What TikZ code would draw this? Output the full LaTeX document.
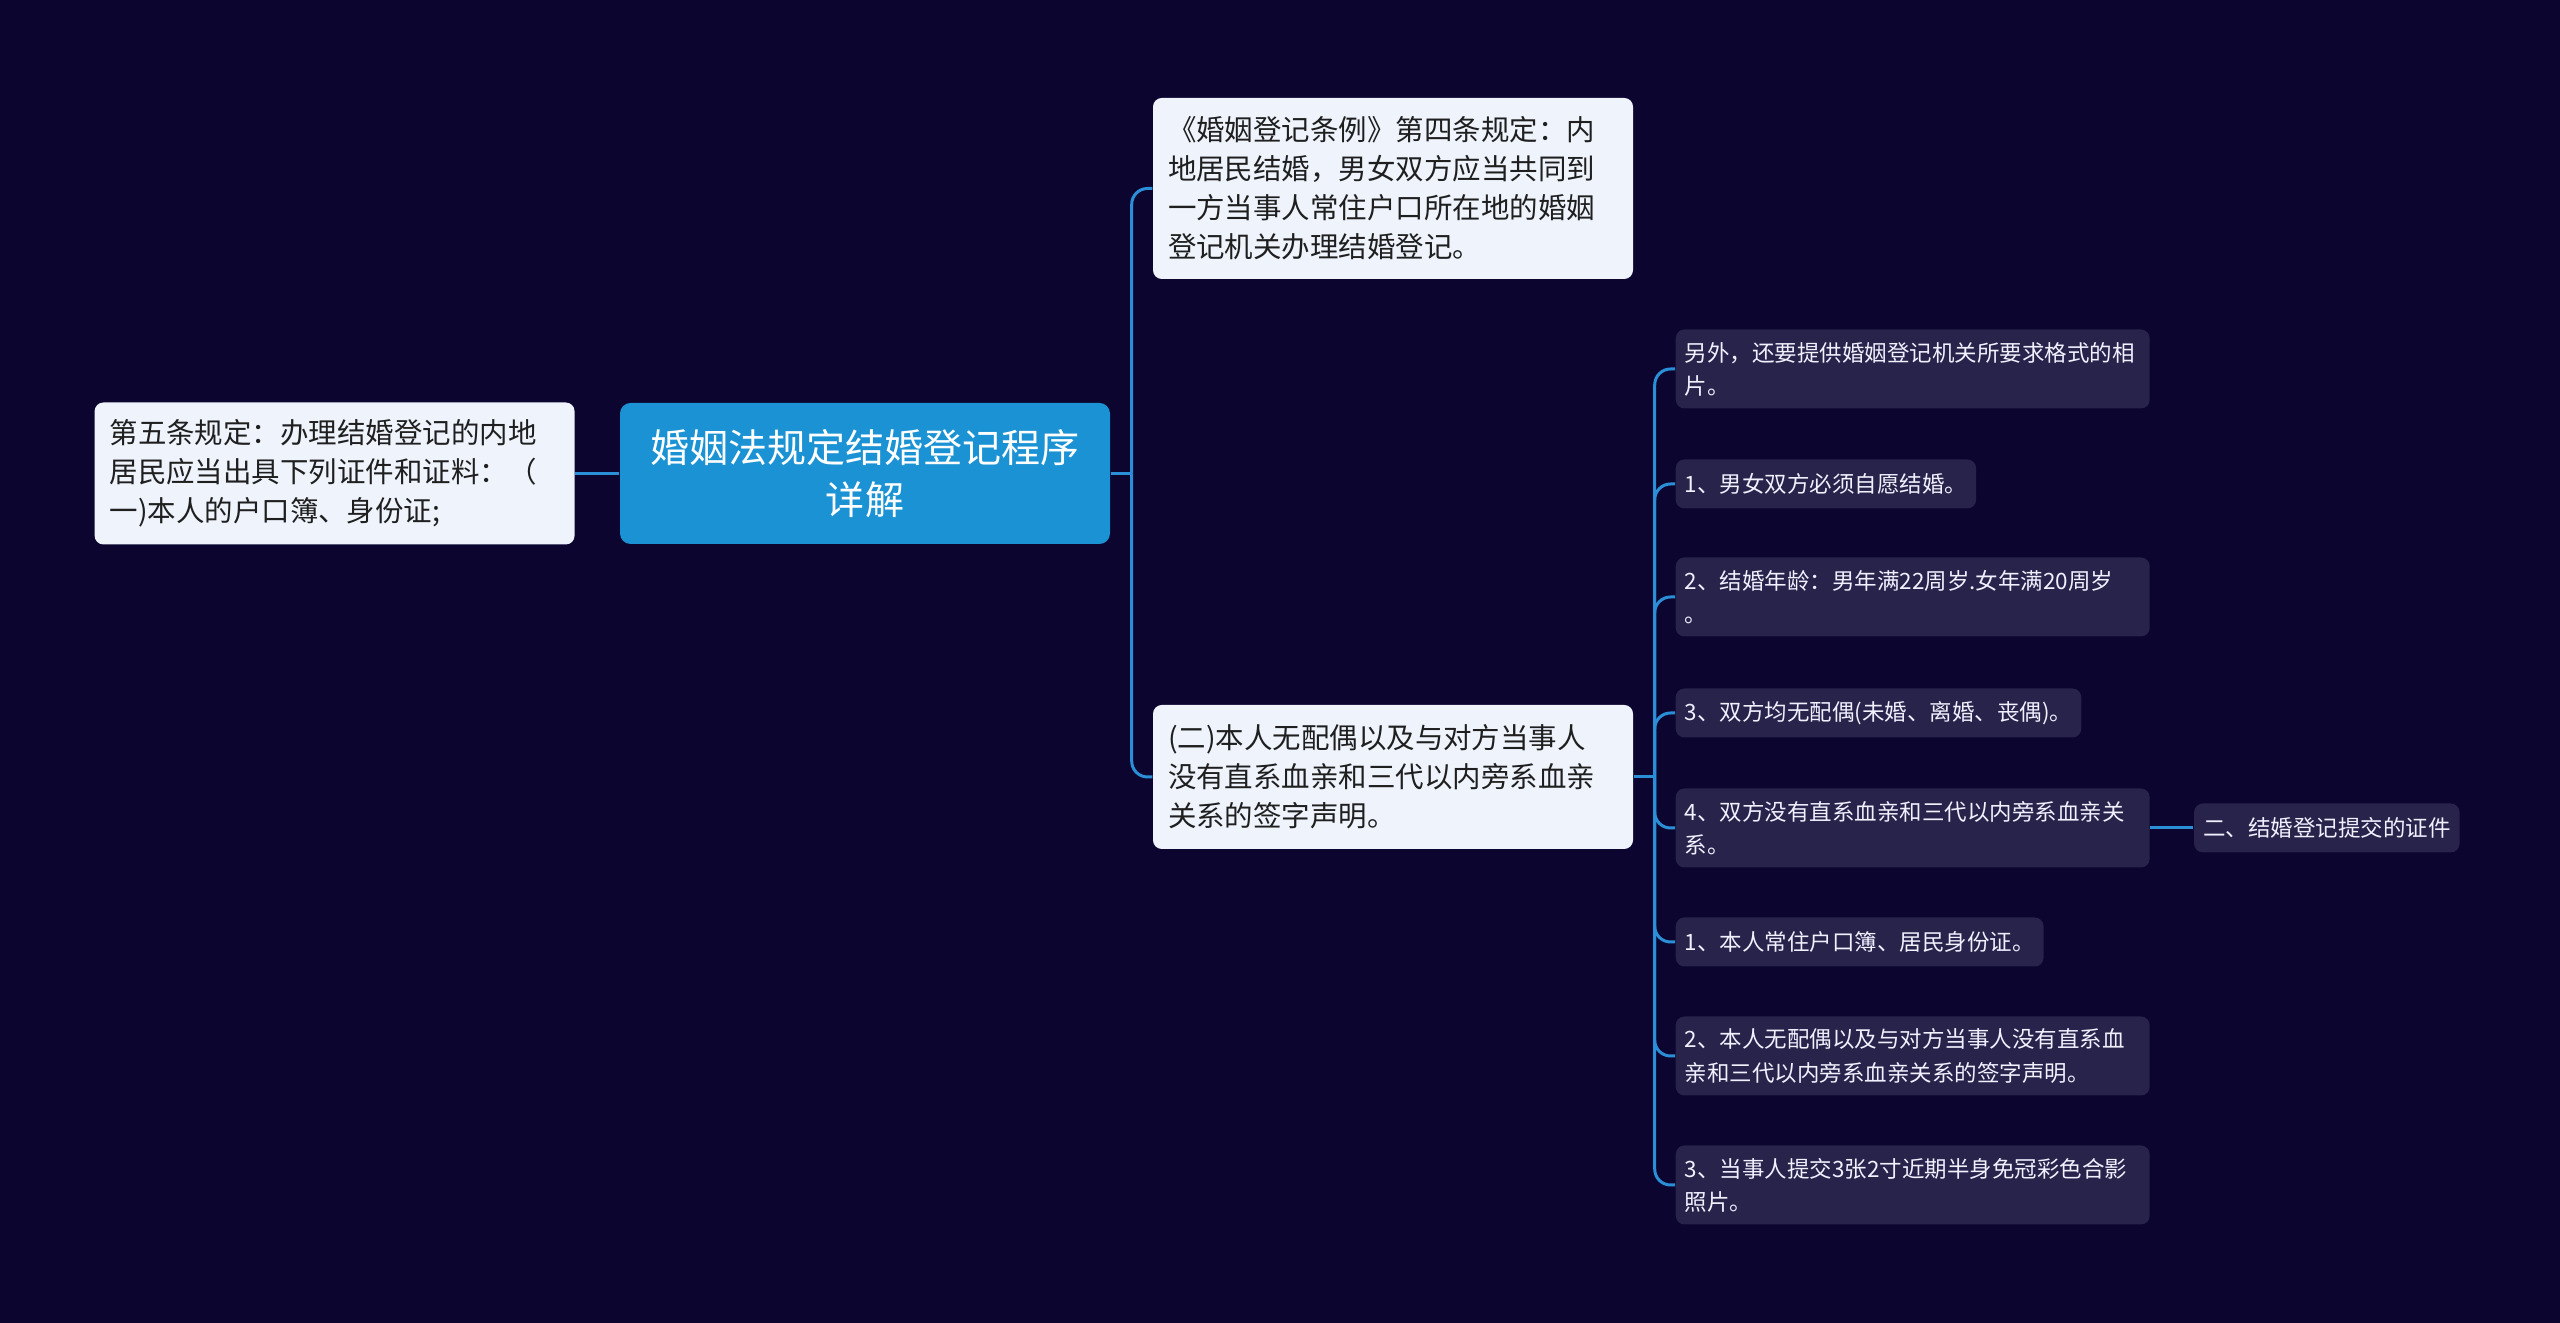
\documentclass[tikz,border=0pt]{standalone}
\usepackage{fontspec}
\setmainfont{Noto Sans CJK SC}
\usetikzlibrary{positioning}
\definecolor{bgnavy}{HTML}{0B0530}
\definecolor{leafbg}{HTML}{27234A}
\definecolor{paleblue}{HTML}{EEF3FC}
\definecolor{rootblue}{HTML}{1A92D4}
\definecolor{linkblue}{HTML}{2B8FD8}

\begin{document}
\begin{tikzpicture}[
  link/.style={draw=linkblue, line width=0.85pt, rounded corners=4.5pt},
  pale/.style={fill=paleblue, rounded corners=2.5pt, text=black!88,
    font=\fontsize{8.1}{11.1}\selectfont, align=left, text width=4.5cm,
    inner xsep=0.15cm, inner ysep=0pt},
  leaf/.style={fill=leafbg, rounded corners=2.5pt, text=white!94!blue,
    font=\fontsize{6.4}{9.4}\selectfont, align=left, inner xsep=0.09cm,
    inner ysep=0pt, minimum height=0.49cm, anchor=west},
  leafwide/.style={leaf, text width=4.56cm, minimum height=0.79cm}
]
  \fill[bgnavy] (0,0) rectangle (25.6,13.23);
  \useasboundingbox (0,0) rectangle (25.6,13.23);

  % centre topic and its left branch
  \node[fill=rootblue, rounded corners=3pt, text=white, align=center,
        font=\fontsize{11.1}{14.8}\selectfont, minimum width=4.9cm,
        minimum height=1.41cm] (root) at (8.65,8.495)
        {婚姻法规定结婚登记程序\\详解};
  \node[pale, minimum height=1.42cm, left=0.44cm of root] (rule5)
        {第五条规定：办理结婚登记的内地\\居民应当出具下列证件和证料：（\\一)本人的户口簿、身份证;};

  % right branches
  \node[pale, minimum height=1.81cm] (art4) at (13.93,11.345)
        {《婚姻登记条例》第四条规定：内\\地居民结婚，男女双方应当共同到\\一方当事人常住户口所在地的婚姻\\登记机关办理结婚登记。};
  \node[pale, minimum height=1.44cm] (decl) at (13.93,5.46)
        {(二)本人无配偶以及与对方当事人\\没有直系血亲和三代以内旁系血亲\\关系的签字声明。};

  \foreach \i/\y/\st/\txt in {
      0/9.54/leafwide/{另外，还要提供婚姻登记机关所要求格式的相\\片。},
      1/8.39/leaf/{1、男女双方必须自愿结婚。},
      2/7.26/leafwide/{2、结婚年龄：男年满22周岁.女年满20周岁\\。},
      3/6.10/leaf/{3、双方均无配偶(未婚、离婚、丧偶)。},
      4/4.95/leafwide/{4、双方没有直系血亲和三代以内旁系血亲关\\系。},
      5/3.81/leaf/{1、本人常住户口簿、居民身份证。},
      6/2.67/leafwide/{2、本人无配偶以及与对方当事人没有直系血\\亲和三代以内旁系血亲关系的签字声明。},
      7/1.38/leafwide/{3、当事人提交3张2寸近期半身免冠彩色合影\\照片。}} {
    \node[\st] (s\i) at (16.75,\y) {\txt};
  }
  \node[leaf, right=0.43cm of s4] (cert) {二、结婚登记提交的证件};

  % connectors
  \draw[link] (root.west) -- (rule5.east);
  \coordinate (rhub) at ([xshift=0.21cm]root.east);
  \draw[link] (root.east) -- (rhub);
  \draw[link] (rhub) |- (art4.west);
  \draw[link] (rhub) |- (decl.west);
  \coordinate (dhub) at ([xshift=0.21cm]decl.east);
  \draw[link] (decl.east) -- (dhub);
  \foreach \i in {0,...,7}
    \draw[link] (dhub) |- (s\i.west);
  \draw[link] (s4.east) -- (cert.west);
\end{tikzpicture}
\end{document}
